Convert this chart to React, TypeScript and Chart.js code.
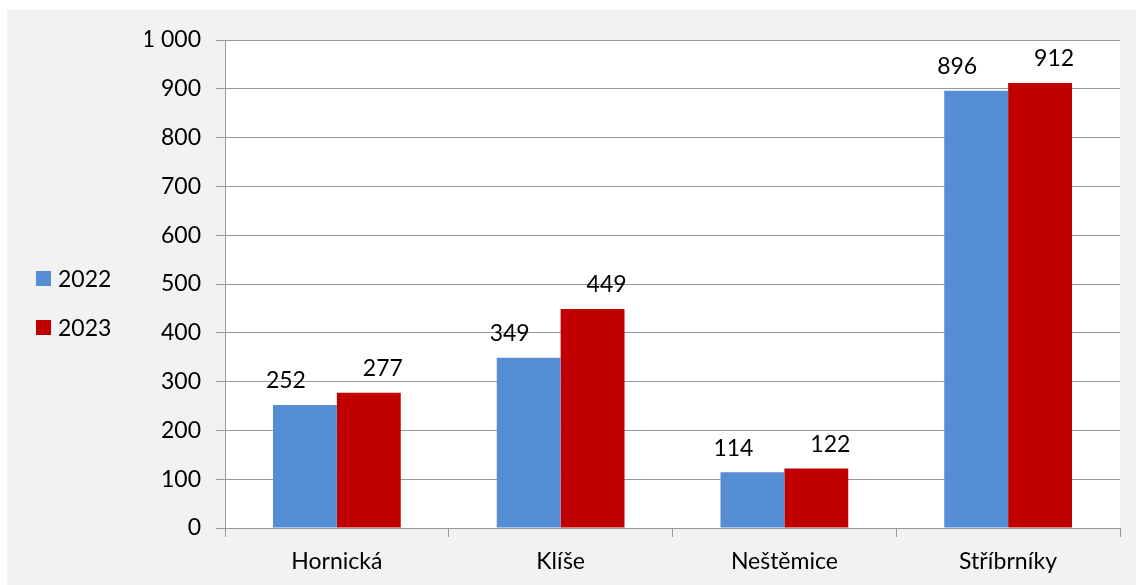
import React, { useEffect, useRef } from "react";
import { Chart, registerables } from "chart.js";

Chart.register(...registerables);

const categories = ["Hornická", "Klíše", "Neštěmice", "Stříbrníky"];
const series2022 = [252, 349, 114, 896];
const series2023 = [277, 449, 122, 912];
const seriesLabels = ["2022", "2023"];
const seriesColors = ["#558ed5", "#c00000"];
const yTicks = [0, 100, 200, 300, 400, 500, 600, 700, 800, 900, 1000];

const FONT = "Lato, 'Open Sans', sans-serif";
const FONT_SIZE = 23;
const GRID = "#999999";
const LABEL_DX = [-19, 14];

const fmt = (v: number) => String(v).replace(/\B(?=(\d{3})+(?!\d))/g, " ");

const valueLabels = {
  id: "valueLabels",
  afterDatasetsDraw(chart: any) {
    const ctx = chart.ctx;
    ctx.save();
    ctx.font = `${FONT_SIZE}px ${FONT}`;
    ctx.fillStyle = "#000";
    ctx.textAlign = "center";
    ctx.textBaseline = "middle";
    chart.data.datasets.forEach((ds: any, di: number) => {
      const meta = chart.getDatasetMeta(di);
      meta.data.forEach((bar: any, i: number) => {
        ctx.fillText(fmt(ds.data[i]), bar.x + LABEL_DX[di], bar.y - 24);
      });
    });
    ctx.restore();
  },
};

export default function App() {
  const ref = useRef<HTMLCanvasElement | null>(null);
  useEffect(() => {
    if (!ref.current) return;
    const chart = new Chart(ref.current, {
      type: "bar",
      data: {
        labels: categories,
        datasets: [
          { label: seriesLabels[0], data: series2022, backgroundColor: seriesColors[0] },
          { label: seriesLabels[1], data: series2023, backgroundColor: seriesColors[1] },
        ],
      },
      options: {
        animation: false,
        responsive: true,
        maintainAspectRatio: false,
        layout: { padding: { left: 138, right: 16, top: 30, bottom: 0 } },
        datasets: { bar: { categoryPercentage: 0.571, barPercentage: 1 } },
        plugins: { legend: { display: false }, tooltip: { enabled: false } },
        scales: {
          x: {
            grid: { offset: true, drawOnChartArea: false, drawTicks: true, tickLength: 9, color: GRID },
            border: { display: true, color: GRID, width: 1 },
            ticks: { color: "#000", font: { family: FONT, size: FONT_SIZE }, padding: 11 },
            afterFit: (s: any) => { s.height = 57; },
          },
          y: {
            min: 0,
            max: 1000,
            afterBuildTicks: (s: any) => { s.ticks = yTicks.map((v) => ({ value: v })); },
            grid: { color: GRID, tickLength: 9, lineWidth: 1 },
            border: { display: true, color: GRID, width: 1 },
            ticks: {
              color: "#000",
              font: { family: FONT, size: FONT_SIZE },
              padding: 15,
              callback: (v: any) => fmt(Number(v)),
            },
            afterFit: (s: any) => { s.width = 80; },
          },
        },
      },
      plugins: [valueLabels],
    });
    return () => chart.destroy();
  }, []);

  const legendItem = (i: number, top: number) => (
    <div key={i} style={{ position: "absolute", left: 29, top, display: "flex", alignItems: "center", height: 20 }}>
      <div style={{ width: 15, height: 15, background: seriesColors[i] }} />
      <span style={{ marginLeft: 7, fontFamily: FONT, fontSize: FONT_SIZE, color: "#000", lineHeight: "20px" }}>
        {seriesLabels[i]}
      </span>
    </div>
  );

  return (
    <div style={{ position: "absolute", left: 7, top: 10, width: 1129, height: 575, background: "#f2f2f2" }}>
      <div style={{ position: "absolute", left: 218, top: 30, width: 895, height: 488, background: "#fff" }} />
      <div style={{ position: "absolute", inset: 0 }}>
        <canvas ref={ref} />
      </div>
      {legendItem(0, 258)}
      {legendItem(1, 307)}
    </div>
  );
}
